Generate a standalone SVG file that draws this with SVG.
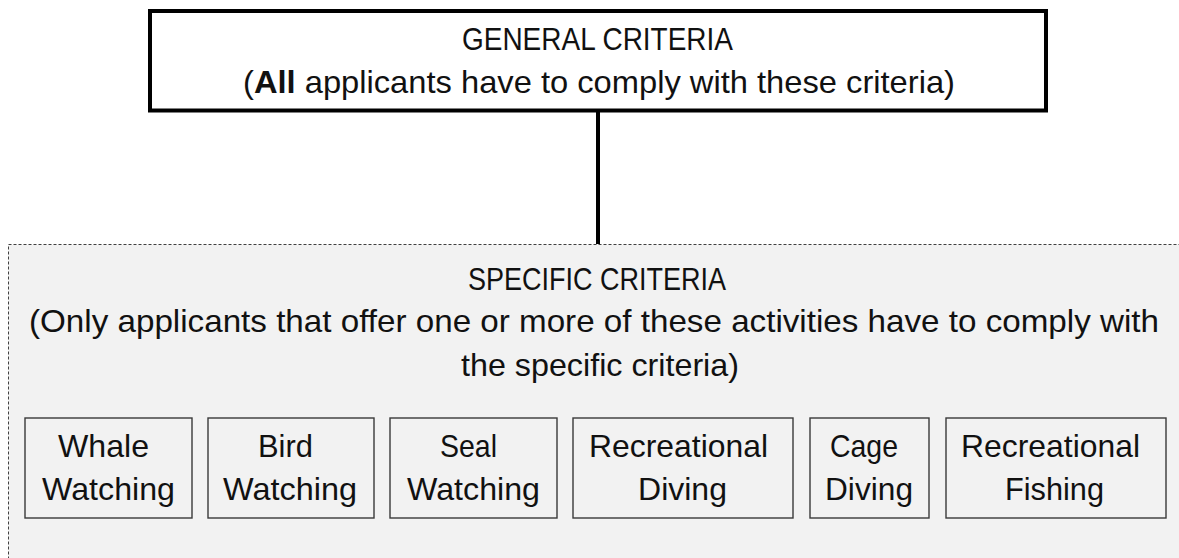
<svg xmlns="http://www.w3.org/2000/svg" width="1179" height="558" viewBox="0 0 1179 558">
<style>
  text { font-family: "Liberation Sans", Arial, sans-serif; font-size: 31.5px; fill: #111; }
  .act { fill: #f2f2f2; stroke: #3a3a3a; stroke-width: 1.4; }
</style>
<rect x="0" y="0" width="1179" height="558" fill="#ffffff"/>
<g id="specific">
  <rect x="8.5" y="244.5" width="1190" height="330" fill="#f2f2f2" stroke="#404040" stroke-width="1" stroke-dasharray="3 2"/>
  <text x="468" y="290" textLength="258" lengthAdjust="spacingAndGlyphs">SPECIFIC CRITERIA</text>
  <text x="29" y="332" textLength="1130" lengthAdjust="spacingAndGlyphs">(Only applicants that offer one or more of these activities have to comply with</text>
  <text x="461" y="376" textLength="278" lengthAdjust="spacingAndGlyphs">the specific criteria)</text>
</g>
<g id="connectors">
  <line x1="598" y1="110" x2="598" y2="244" stroke="#000" stroke-width="4"/>
</g>
<g id="general">
  <rect x="150" y="11" width="896" height="99.5" fill="#ffffff" stroke="#000" stroke-width="4"/>
  <text x="462" y="50" textLength="271" lengthAdjust="spacingAndGlyphs">GENERAL CRITERIA</text>
  <text x="243" y="93" textLength="712" lengthAdjust="spacingAndGlyphs">(<tspan font-weight="bold">All</tspan> applicants have to comply with these criteria)</text>
</g>
<g id="whale">
  <rect class="act" x="25" y="418" width="167" height="100"/>
  <text x="58" y="457" textLength="91" lengthAdjust="spacingAndGlyphs">Whale</text>
  <text x="42" y="500" textLength="133" lengthAdjust="spacingAndGlyphs">Watching</text>
</g>
<g id="bird">
  <rect class="act" x="208" y="418" width="166" height="100"/>
  <text x="258" y="457" textLength="55" lengthAdjust="spacingAndGlyphs">Bird</text>
  <text x="223" y="500" textLength="134" lengthAdjust="spacingAndGlyphs">Watching</text>
</g>
<g id="seal">
  <rect class="act" x="390" y="418" width="167" height="100"/>
  <text x="440" y="457" textLength="57" lengthAdjust="spacingAndGlyphs">Seal</text>
  <text x="407" y="500" textLength="133" lengthAdjust="spacingAndGlyphs">Watching</text>
</g>
<g id="diving">
  <rect class="act" x="573" y="418" width="220" height="100"/>
  <text x="589" y="457" textLength="179" lengthAdjust="spacingAndGlyphs">Recreational</text>
  <text x="638" y="500" textLength="89" lengthAdjust="spacingAndGlyphs">Diving</text>
</g>
<g id="cage">
  <rect class="act" x="810" y="418" width="119" height="100"/>
  <text x="830" y="457" textLength="68" lengthAdjust="spacingAndGlyphs">Cage</text>
  <text x="825" y="500" textLength="88" lengthAdjust="spacingAndGlyphs">Diving</text>
</g>
<g id="fishing">
  <rect class="act" x="946" y="418" width="220" height="100"/>
  <text x="961" y="457" textLength="179" lengthAdjust="spacingAndGlyphs">Recreational</text>
  <text x="1005" y="500" textLength="99" lengthAdjust="spacingAndGlyphs">Fishing</text>
</g>
</svg>
